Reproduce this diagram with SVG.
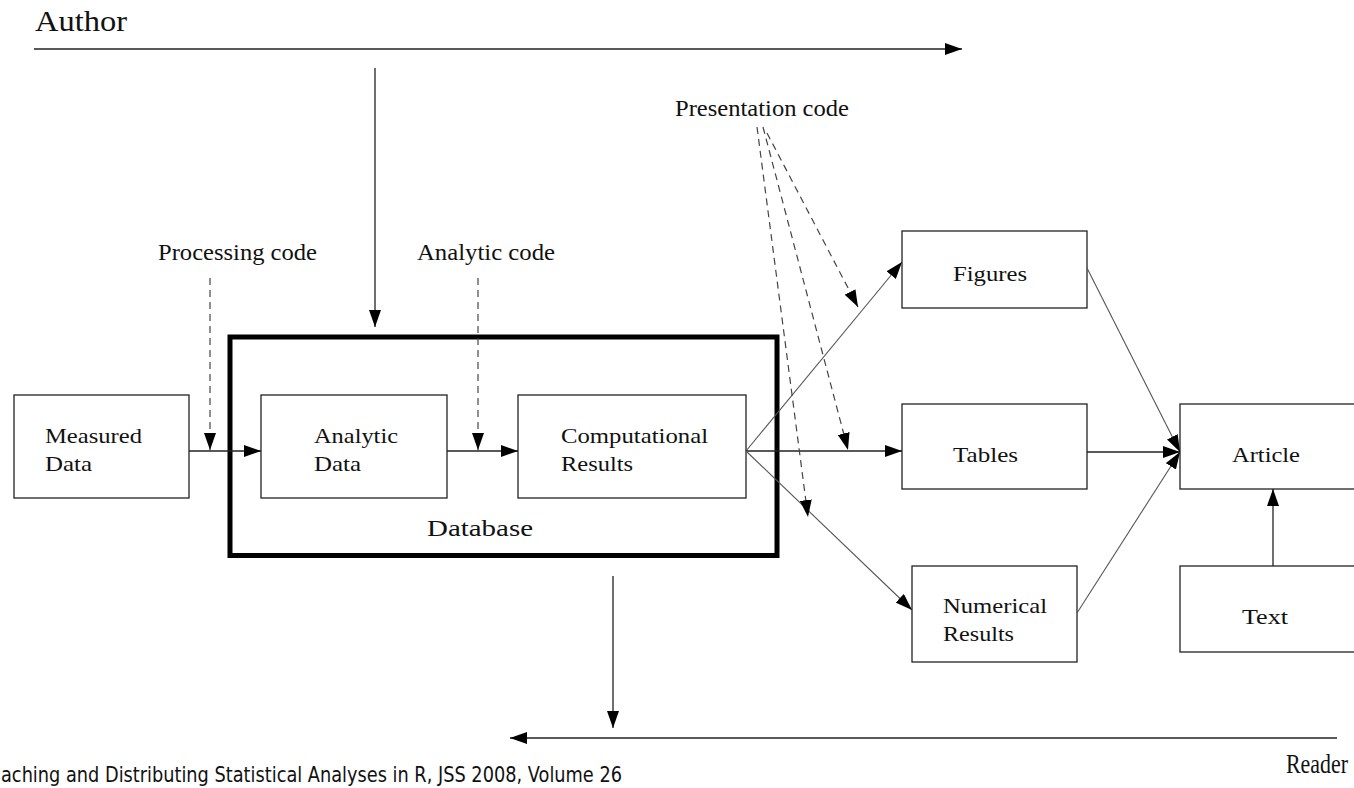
<svg xmlns="http://www.w3.org/2000/svg" width="1354" height="788" viewBox="0 0 1354 788">
<style>
.box{fill:#fff;stroke:#222;stroke-width:1.3}
.db{fill:none;stroke:#000;stroke-width:5}
.t{font-family:"Liberation Serif","Times New Roman",serif;fill:#111}
.lbl{font-size:22px}
.code{font-size:24px}
.big{font-size:30px}
.ln{stroke:#222;stroke-width:1.3;fill:none}
.dg{stroke:#555;stroke-width:1.1;fill:none}
.ds{stroke:#444;stroke-width:1.2;fill:none;stroke-dasharray:7,5}
.foot{font-family:"DejaVu Sans",sans-serif;font-size:21px;fill:#111}
</style>
<defs>
<marker id="ah" markerUnits="userSpaceOnUse" markerWidth="18" markerHeight="12" refX="17" refY="6" orient="auto">
<path d="M0,0 L17,6 L0,12 Z" fill="#000"/>
</marker>
</defs>
<g id="author"><text class="t big" x="35" y="31" textLength="92" lengthAdjust="spacingAndGlyphs">Author</text></g>
<g id="reader"><text class="t" font-size="27" x="1286" y="773" textLength="62" lengthAdjust="spacingAndGlyphs">Reader</text></g>
<g id="processing-code"><text class="t code" x="158" y="260" textLength="159" lengthAdjust="spacingAndGlyphs">Processing code</text></g>
<g id="analytic-code"><text class="t code" x="417" y="260" textLength="138" lengthAdjust="spacingAndGlyphs">Analytic code</text></g>
<g id="presentation-code"><text class="t code" x="675" y="116" textLength="174" lengthAdjust="spacingAndGlyphs">Presentation code</text></g>
<g id="database"><rect class="db" x="230" y="337" width="547" height="218.5"/>
<text class="t code" x="427" y="536" textLength="106" lengthAdjust="spacingAndGlyphs">Database</text></g>
<g id="measured-data"><rect class="box" x="14" y="395" width="175" height="103"/>
<text class="t lbl" x="45" y="443" textLength="97" lengthAdjust="spacingAndGlyphs">Measured</text>
<text class="t lbl" x="45" y="471" textLength="47" lengthAdjust="spacingAndGlyphs">Data</text></g>
<g id="analytic-data"><rect class="box" x="261" y="395" width="186" height="103"/>
<text class="t lbl" x="314" y="443" textLength="84" lengthAdjust="spacingAndGlyphs">Analytic</text>
<text class="t lbl" x="314" y="471" textLength="47" lengthAdjust="spacingAndGlyphs">Data</text></g>
<g id="computational-results"><rect class="box" x="518" y="395" width="228" height="103"/>
<text class="t lbl" x="561" y="443" textLength="147" lengthAdjust="spacingAndGlyphs">Computational</text>
<text class="t lbl" x="561" y="471" textLength="72" lengthAdjust="spacingAndGlyphs">Results</text></g>
<g id="figures"><rect class="box" x="902" y="231" width="185" height="77"/>
<text class="t lbl" x="953" y="281" textLength="74" lengthAdjust="spacingAndGlyphs">Figures</text></g>
<g id="tables"><rect class="box" x="902" y="404" width="185" height="85"/>
<text class="t lbl" x="953" y="462" textLength="65" lengthAdjust="spacingAndGlyphs">Tables</text></g>
<g id="numerical-results"><rect class="box" x="912" y="566" width="165" height="96"/>
<text class="t lbl" x="943" y="613" textLength="104" lengthAdjust="spacingAndGlyphs">Numerical</text>
<text class="t lbl" x="943" y="641" textLength="71" lengthAdjust="spacingAndGlyphs">Results</text></g>
<g id="article"><rect class="box" x="1180" y="404" width="180" height="85"/>
<text class="t lbl" x="1232" y="462" textLength="68" lengthAdjust="spacingAndGlyphs">Article</text></g>
<g id="text"><rect class="box" x="1180" y="566" width="180" height="86"/>
<text class="t lbl" x="1242" y="624" textLength="46" lengthAdjust="spacingAndGlyphs">Text</text></g>
<g id="connectors">
<line class="ln" x1="34" y1="49" x2="962" y2="49" marker-end="url(#ah)"/>
<line class="ln" x1="375" y1="68" x2="375" y2="327" marker-end="url(#ah)"/>
<line class="ds" x1="210" y1="278" x2="210" y2="450" marker-end="url(#ah)"/>
<line class="ds" x1="478" y1="278" x2="478" y2="450" marker-end="url(#ah)"/>
<line class="ln" x1="189" y1="451" x2="261" y2="451" marker-end="url(#ah)"/>
<line class="ln" x1="447" y1="451" x2="518" y2="451" marker-end="url(#ah)"/>
<line class="dg" x1="746" y1="451" x2="902" y2="262" marker-end="url(#ah)"/>
<line class="ln" x1="746" y1="451" x2="902" y2="451" marker-end="url(#ah)"/>
<line class="dg" x1="746" y1="451" x2="912" y2="610" marker-end="url(#ah)"/>
<line class="ds" x1="757" y1="127" x2="808" y2="517" marker-end="url(#ah)"/>
<line class="ds" x1="763" y1="127" x2="848" y2="450" marker-end="url(#ah)"/>
<line class="ds" x1="767" y1="133" x2="858" y2="307" marker-end="url(#ah)"/>
<line class="dg" x1="1087" y1="268" x2="1180" y2="452" marker-end="url(#ah)"/>
<line class="ln" x1="1087" y1="452" x2="1180" y2="452" marker-end="url(#ah)"/>
<line class="dg" x1="1077" y1="613" x2="1180" y2="452" marker-end="url(#ah)"/>
<line class="ln" x1="1273" y1="566" x2="1273" y2="489" marker-end="url(#ah)"/>
<line class="ln" x1="613" y1="576" x2="613" y2="728" marker-end="url(#ah)"/>
<line class="ln" x1="1337" y1="738" x2="510" y2="738" marker-end="url(#ah)"/>
</g>
<g id="footer"><text class="foot" x="1" y="782" textLength="621" lengthAdjust="spacingAndGlyphs">aching and Distributing Statistical Analyses in R, JSS 2008, Volume 26</text></g>
</svg>
